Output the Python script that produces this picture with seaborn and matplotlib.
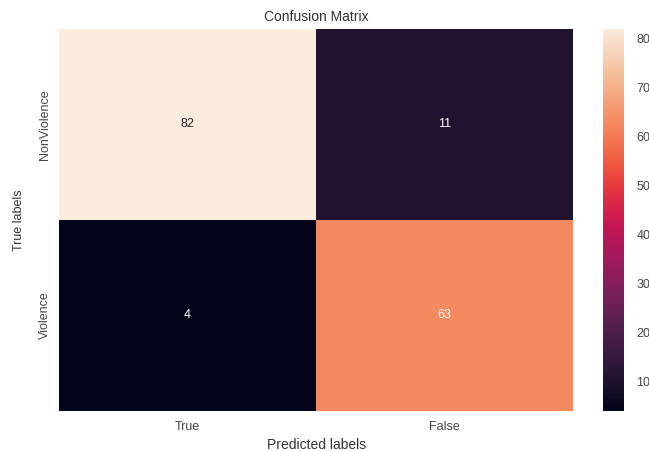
import numpy as np
import matplotlib
matplotlib.use("Agg")
import matplotlib.pyplot as plt
import seaborn as sns

# confusion matrix values
row_labels = ["NonViolence", "Violence"]
col_labels = ["True", "False"]
counts = np.array([[82, 11],
                   [4, 63]])

sns.set_style("white")
plt.rcParams['font.family'] = ['Liberation Sans', 'DejaVu Sans']

fig = plt.figure(figsize=(6.49, 4.51), dpi=100)
ax = fig.add_axes([0.091, 0.089, 0.792, 0.847])
cax = fig.add_axes([0.929, 0.089, 0.032, 0.847])

sns.heatmap(counts, annot=True, fmt="d", ax=ax, cbar_ax=cax,
            xticklabels=col_labels, yticklabels=row_labels,
            annot_kws={"size": 9})

ax.set_title("Confusion Matrix", fontsize=10, color="#333333")
ax.set_xlabel("Predicted labels", fontsize=10, color="#333333", labelpad=4)
ax.set_ylabel("True labels", fontsize=9, color="#333333", labelpad=10)
ax.tick_params(axis="both", labelsize=9, colors="#444444", length=0)
ax.tick_params(axis="x", pad=7)
ax.tick_params(axis="y", pad=6)
for lbl in ax.get_yticklabels():
    lbl.set_rotation(90)
    lbl.set_va("center")
cax.tick_params(labelsize=9, colors="#444444", length=0, pad=9)
cax.set_frame_on(False)

fig.savefig("out.png", dpi=100)
